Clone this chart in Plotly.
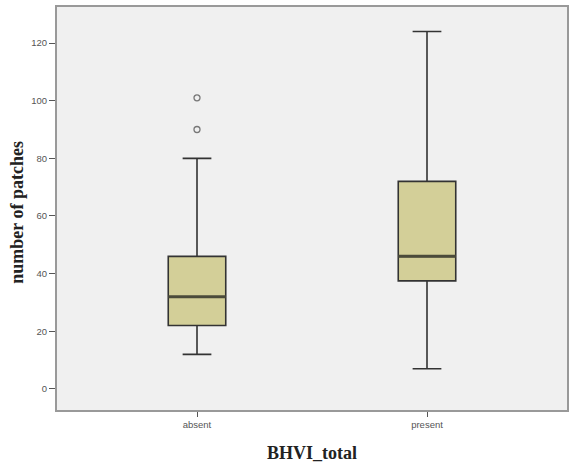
import plotly.graph_objects as go

categories = ["absent", "present"]
q1 = [22, 37.5]
median = [32, 46]
q3 = [46, 72]
lower_whisker = [12, 7]
upper_whisker = [80, 124]
outlier_cat = ["absent", "absent"]
outlier_val = [101, 90]
yticks = [0, 20, 40, 60, 80, 100, 120]

pos = {c: i for i, c in enumerate(categories)}
box_w = 0.25

fig = go.Figure()
for i, c in enumerate(categories):
    fig.add_trace(go.Box(
        x=[i], q1=[q1[i]], median=[median[i]], q3=[q3[i]],
        lowerfence=[lower_whisker[i]], upperfence=[upper_whisker[i]],
        width=box_w, whiskerwidth=0.5,
        fillcolor="#D3CF98", line=dict(color="#333333", width=1.6),
        boxpoints=False, showlegend=False, hoverinfo="skip"))
    fig.add_trace(go.Scatter(
        x=[i - box_w / 2, i + box_w / 2], y=[median[i], median[i]],
        mode="lines", line=dict(color="#4B4B3A", width=3),
        showlegend=False, hoverinfo="skip"))

fig.add_trace(go.Scatter(
    x=[pos[c] for c in outlier_cat], y=outlier_val, mode="markers",
    marker=dict(symbol="circle-open", size=6, color="#777777", line=dict(width=1.3)),
    showlegend=False, hoverinfo="skip"))

tickfont = dict(family="Liberation Sans, Arial", size=9.5, color="#555")
fig.update_layout(
    width=571, height=466,
    margin=dict(l=57, r=4, t=7, b=56, autoexpand=False),
    paper_bgcolor="white", plot_bgcolor="#F0F0F0",
    xaxis=dict(range=[-0.6087, 1.6087], tickvals=list(range(len(categories))),
               ticktext=categories, ticks="outside", ticklen=5, tickcolor="#555",
               tickfont=tickfont, automargin=False,
               showgrid=False, zeroline=False, showline=True, linecolor="#999",
               linewidth=2, mirror=True),
    yaxis=dict(range=[-7.3, 132.5], tickvals=yticks, ticks="outside", ticklen=6,
               tickcolor="#555", tickfont=tickfont, automargin=False,
               showgrid=False, zeroline=False, showline=True, linecolor="#999",
               linewidth=2, mirror=True),
    annotations=[
        dict(text="<b>BHVI_total</b>", xref="paper", yref="paper", x=0.5, y=-0.107,
             xanchor="center", yanchor="middle", showarrow=False,
             font=dict(family="Liberation Serif, Times New Roman", size=18, color="#222")),
        dict(text="<b>number of patches</b>", xref="paper", yref="paper", x=-0.08, y=0.49,
             xanchor="center", yanchor="middle", showarrow=False, textangle=-90,
             font=dict(family="Liberation Serif, Times New Roman", size=18, color="#222")),
    ],
)

fig.write_html("out.html", config={"displayModeBar": False},
               post_script="document.body.style.margin='0';document.body.style.overflow='hidden';")
